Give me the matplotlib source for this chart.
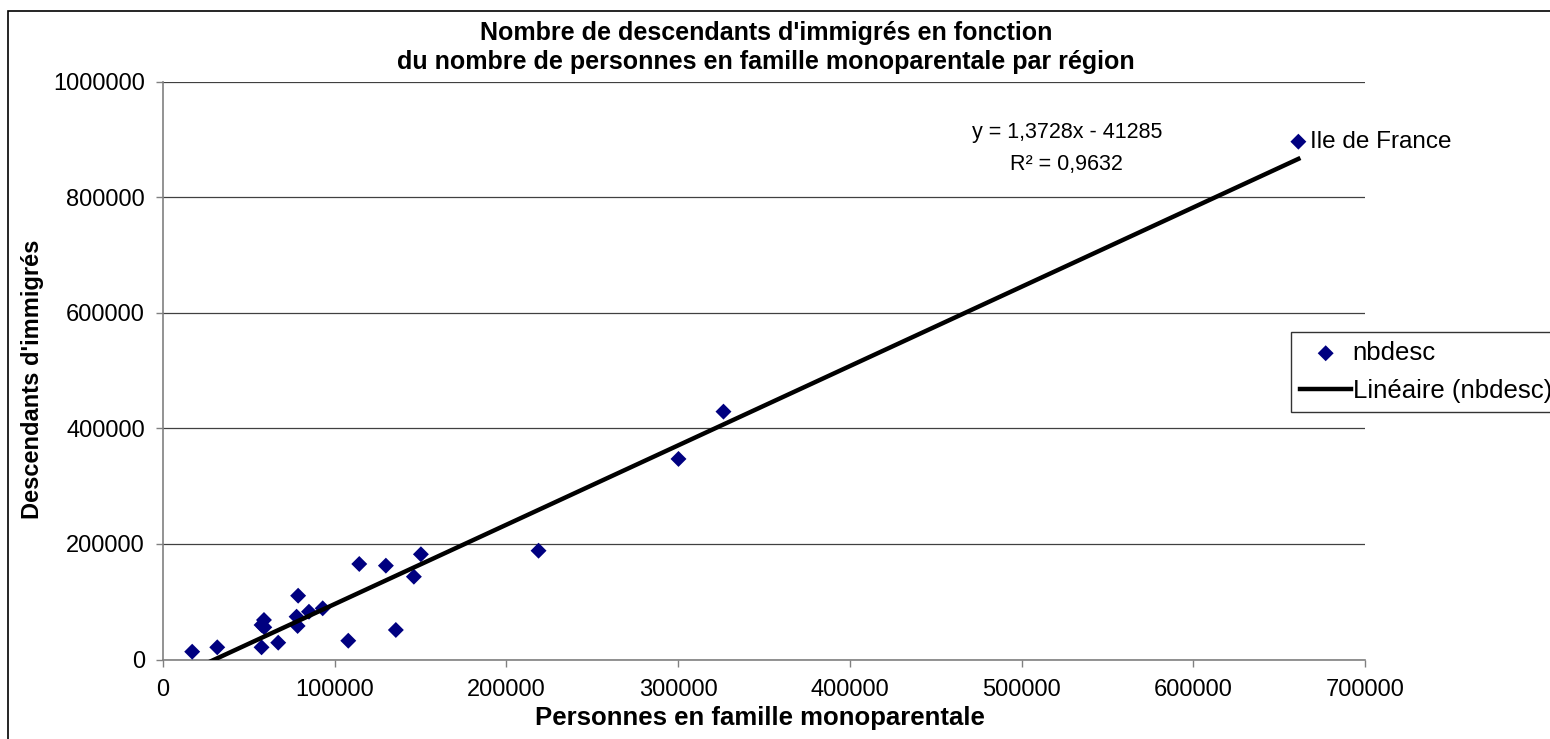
import numpy as np
import matplotlib
matplotlib.use("Agg")
import matplotlib.pyplot as plt
from matplotlib.patches import Rectangle

plt.rcParams['font.family'] = ['Liberation Sans', 'DejaVu Sans']

# ---------- data ----------
personnes_mono = [17000, 31600, 57400, 67100, 58800, 59000, 57400, 78700, 77800, 78400, 85000,
                  93000, 107900, 114300, 129800, 135600, 146100, 150200, 218700, 300200, 326400, 661200]
nbdesc = [13500, 21100, 21100, 29100, 68400, 55700, 59700, 110400, 74100, 58000, 82700,
          88600, 32500, 165300, 162400, 51100, 143300, 182100, 188300, 347100, 429000, 896200]

slope = 1.3728
intercept = -41285
r2 = 0.9632

label_point = "Ile de France"
x_ticks = [0, 100000, 200000, 300000, 400000, 500000, 600000, 700000]
y_ticks = [0, 200000, 400000, 600000, 800000, 1000000]

# ---------- figure ----------
fig = plt.figure(figsize=(15.5, 7.39), dpi=100)
ax = fig.add_axes([163 / 1550, 79.5 / 739, (1365 - 163) / 1550, (659.5 - 81.7) / 739])

# outer chart border (cut off on right / bottom like the screenshot)
fig.patches.append(Rectangle((7.5 / 1550, -0.1), 1.2, 1 - 11 / 739 + 0.1,
                             transform=fig.transFigure, fill=False,
                             edgecolor='black', linewidth=1.2, clip_on=False))

ax.scatter(personnes_mono, nbdesc, marker='D', s=66, color='#000080',
           edgecolors='none', zorder=3, label='nbdesc')

xs = np.array([min(personnes_mono), max(personnes_mono)])
ax.plot(xs, slope * xs + intercept, color='black', linewidth=3.2, zorder=4,
        label='Linéaire (nbdesc)')

ax.set_xlim(x_ticks[0], x_ticks[-1])
ax.set_ylim(y_ticks[0], y_ticks[-1])
ax.set_xticks(x_ticks)
ax.set_yticks(y_ticks)
ax.set_xticklabels([str(v) for v in x_ticks])
ax.set_yticklabels([str(v) for v in y_ticks])
ax.tick_params(axis='both', labelsize=17, direction='out', length=5, width=1, color='#808080')
ax.tick_params(axis='y', pad=8)
ax.tick_params(axis='x', pad=9)

ax.grid(axis='y', color='#404040', linewidth=0.9)
ax.set_axisbelow(True)
for side in ['top', 'right']:
    ax.spines[side].set_visible(False)
for side in ['left', 'bottom']:
    ax.spines[side].set_color('#808080')
    ax.spines[side].set_linewidth(1.2)

# annotation for Ile de France
i_idf = personnes_mono.index(max(personnes_mono))
ax.annotate(label_point, (personnes_mono[i_idf], nbdesc[i_idf]), xytext=(8.5, 0),
            textcoords='offset points', va='center', ha='left', fontsize=17.5)

# trendline equation
ax.text(0.752, 0.912, "y = %sx - %d" % (str(slope).replace('.', ','), -intercept),
        transform=ax.transAxes, ha='center', va='center', fontsize=15.5)
ax.text(0.752, 0.857, "R² = %s" % str(r2).replace('.', ','),
        transform=ax.transAxes, ha='center', va='center', fontsize=15.5)

# titles
fig.text(766 / 1550, 1 - 33 / 739, "Nombre de descendants d'immigrés en fonction",
         ha='center', va='center', fontsize=18, fontweight='bold')
fig.text(766 / 1550, 1 - 62 / 739, "du nombre de personnes en famille monoparentale par région",
         ha='center', va='center', fontsize=18, fontweight='bold')
fig.text(760 / 1550, 1 - 718 / 739, "Personnes en famille monoparentale",
         ha='center', va='center', fontsize=18.5, fontweight='bold')
fig.text(33 / 1550, 1 - 379 / 739, "Descendants d'immigrés", rotation=90,
         ha='center', va='center', fontsize=17, fontweight='bold')

leg = fig.legend(loc='upper left', bbox_to_anchor=(1291 / 1550, 1 - 332 / 739),
                 fontsize=18.5, frameon=True, fancybox=False, edgecolor='black',
                 handlelength=2.0, handletextpad=0.05, borderpad=0.35, labelspacing=0.55,
                 borderaxespad=0)
leg.get_frame().set_linewidth(1.0)

fig.savefig('out.png', dpi=100)
